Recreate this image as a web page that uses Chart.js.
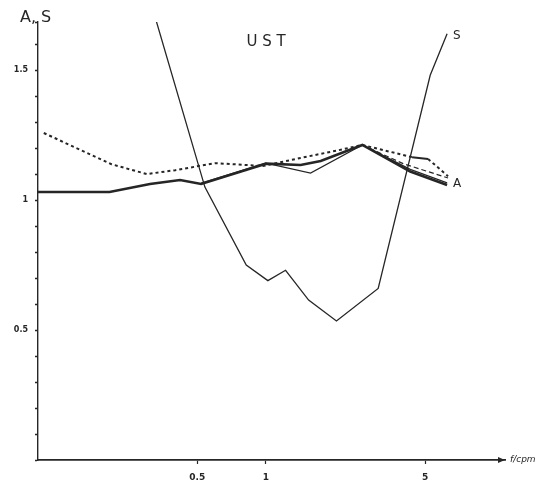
<!DOCTYPE html>
<html>
<head>
<meta charset="utf-8">
<script src="https://cdn.jsdelivr.net/npm/chart.js@4"></script>
<style>
  html, body { margin: 0; padding: 0; background: #fff; }
  #wrap { width: 546px; height: 485px; position: relative; }
</style>
</head>
<body>
<div id="wrap"><canvas id="ust"></canvas></div>
<script>
// UST: A and S against frequency (log axis)
const sFreq = [0.33, 0.54, 0.82, 1.02, 1.22, 1.54, 2.04, 3.11, 5.26, 6.24];
const sVal  = [1.69, 1.05, 0.75, 0.69, 0.73, 0.615, 0.535, 0.66, 1.48, 1.64];

const aFreq = [0.1, 0.206, 0.31, 0.42, 0.52, 1.0, 1.42, 1.74, 2.65, 4.3, 6.24];
const aVal  = [1.031, 1.031, 1.062, 1.077, 1.062, 1.14, 1.135, 1.15, 1.212, 1.11, 1.058];

const a2Freq = [0.52, 1.0, 1.57, 2.65, 4.3, 6.24];
const a2Val  = [1.065, 1.142, 1.104, 1.212, 1.118, 1.066];

const dFreq = [2.65, 4.0, 6.3];
const dVal  = [1.212, 1.14, 1.085];

const pFreq = [0.106, 0.21, 0.3, 0.4, 0.6, 0.97, 1.42, 2.04, 2.65, 4.38, 5.15, 6.3];
const pVal  = [1.258, 1.138, 1.10, 1.115, 1.142, 1.131, 1.162, 1.19, 1.212, 1.165, 1.158, 1.092];

const xTicks = [0.5, 1, 5];
const yLabels = { "0.5": "0.5", "1": "1", "1.5": "1.5" };

const INK = "#262626";
const pts = (xs, ys) => xs.map((x, i) => ({ x, y: ys[i] }));

const base = { showLine: true, fill: false, pointRadius: 0, tension: 0, borderColor: INK };

// labels, arrow and title drawn on top of the plot
const annotate = {
  id: "annotate",
  afterDraw(chart) {
    const { ctx, chartArea: ca, scales: { x, y } } = chart;
    ctx.save();
    ctx.fillStyle = INK;
    ctx.strokeStyle = INK;

    // arrow at the end of the frequency axis
    ctx.beginPath();
    ctx.moveTo(ca.right - 7, ca.bottom - 3);
    ctx.lineTo(ca.right, ca.bottom);
    ctx.lineTo(ca.right - 7, ca.bottom + 3);
    ctx.fill();

    ctx.font = "italic 9px 'DejaVu Sans'";
    ctx.textBaseline = "middle";
    ctx.fillText("f/cpm", ca.right + 5, ca.bottom);

    ctx.font = "16px 'DejaVu Sans'";
    ctx.textBaseline = "alphabetic";
    ctx.fillText("A, S", ca.left - 18, ca.top);

    ctx.font = "15px 'DejaVu Sans'";
    ctx.textAlign = "center";
    ctx.fillText("U S T", 266, 46);

    // series end labels
    ctx.font = "12px 'DejaVu Sans'";
    ctx.textAlign = "left";
    ctx.textBaseline = "middle";
    const sl = sFreq.length - 1;
    ctx.fillText("S", x.getPixelForValue(sFreq[sl]) + 6, y.getPixelForValue(sVal[sl]) + 2);
    const al = aFreq.length - 1;
    ctx.fillText("A", x.getPixelForValue(aFreq[al]) + 6, y.getPixelForValue(aVal[al]) - 1);
    ctx.restore();
  }
};

new Chart(document.getElementById("ust"), {
  type: "scatter",
  data: {
    datasets: [
      { ...base, data: pts(pFreq, pVal), borderWidth: 2, borderDash: [3, 3],
        segment: { borderDash: (c) => (c.p0DataIndex === 9 ? [] : [3, 3]) } },
      { ...base, data: pts(dFreq, dVal), borderWidth: 1.2, borderDash: [5, 3] },
      { ...base, data: pts(a2Freq, a2Val), borderWidth: 1.2 },
      { ...base, data: pts(aFreq, aVal), borderWidth: 2.6 },
      { ...base, data: pts(sFreq, sVal), borderWidth: 1.3 },
    ],
  },
  options: {
    responsive: true,
    maintainAspectRatio: false,
    animation: false,
    layout: { padding: { left: 0, right: 41, top: 22, bottom: 0 } },
    plugins: { legend: { display: false }, tooltip: { enabled: false } },
    scales: {
      x: {
        type: "logarithmic",
        min: 0.1,
        max: 11.2,
        afterBuildTicks: (s) => { s.ticks = xTicks.map((v) => ({ value: v })); },
        afterFit: (s) => { s.height = 25; },
        grid: { drawOnChartArea: false, tickLength: 4, color: INK, tickWidth: 1.2 },
        border: { color: INK, width: 1.8 },
        ticks: {
          color: INK,
          padding: 8,
          font: { family: "'DejaVu Sans'", size: 9, weight: "bold" },
          callback: (v) => String(v),
        },
      },
      y: {
        min: 0,
        max: 1.685,
        afterFit: (s) => { s.width = 38; },
        grid: { drawOnChartArea: false, tickLength: 3, color: INK, tickWidth: 1.4 },
        border: { color: INK, width: 1.4 },
        ticks: {
          stepSize: 0.1,
          autoSkip: false,
          color: INK,
          padding: 7,
          font: { family: "'DejaVu Sans'", size: 8, weight: "bold" },
          callback: (v) => yLabels[String(Math.round(v * 10) / 10)] || "",
        },
      },
    },
  },
  plugins: [annotate],
});
</script>
</body>
</html>
